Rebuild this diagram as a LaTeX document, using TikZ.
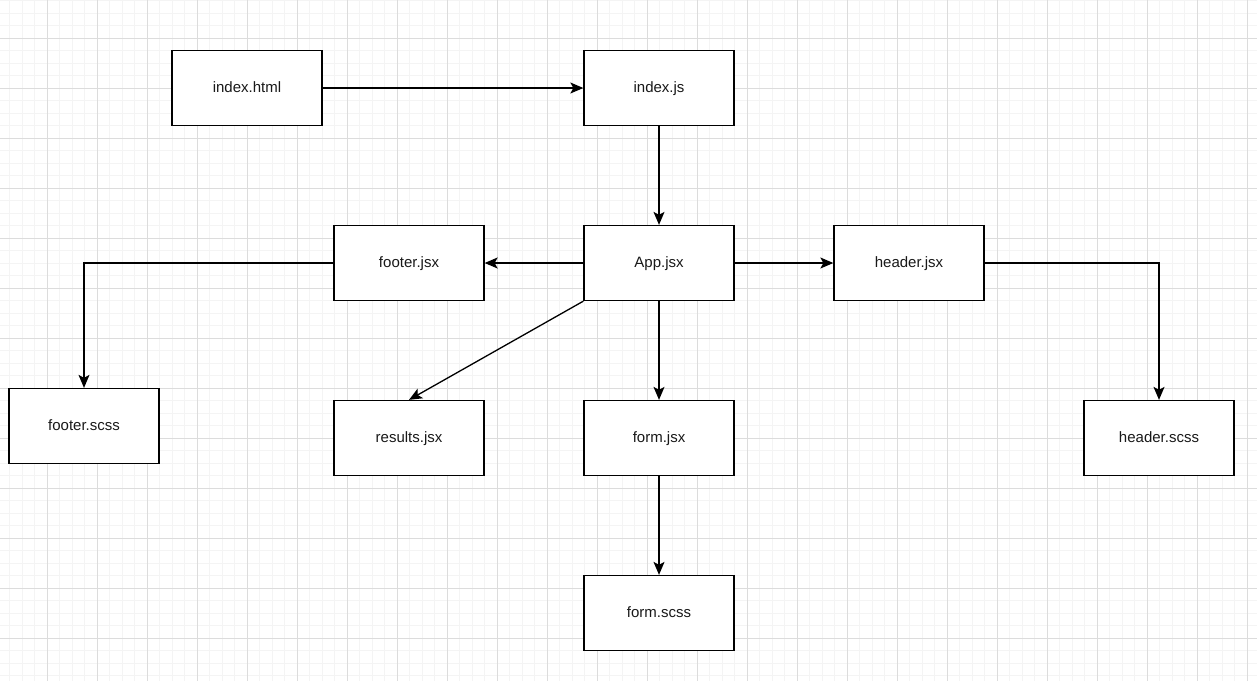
\documentclass[tikz,border=0pt]{standalone}
\usepackage{fontspec}
\setmainfont{Liberation Sans}
\usetikzlibrary{arrows.meta}
\tikzset{
  filebox/.style={draw=black, fill=white, line width=1.3pt, minimum width=150pt, minimum height=75pt, inner sep=0pt, font=\fontsize{15pt}{18pt}\selectfont, text=black!90, text depth=0pt, text height=8pt},
  conn/.style={draw=black, line width=1.3pt, -{Stealth[length=13pt,width=11pt,inset=3pt]}},
  minorline/.style={draw={rgb,255:red,244;green,244;blue,244}, line width=1pt},
  majorline/.style={draw={rgb,255:red,220;green,220;blue,220}, line width=1pt}
}
\begin{document}
\begin{tikzpicture}[x=1pt,y=-1pt]
\useasboundingbox (0,0) rectangle (1257,681);
\fill[white] (0,0) rectangle (1257,681);
% minor grid
\foreach \i in {0,...,101} {\draw[minorline] ({-3+12.5*\i},0) -- ({-3+12.5*\i},681);}
\foreach \j in {0,...,55} {\draw[minorline] (0,{0.5+12.5*\j}) -- (1257,{0.5+12.5*\j});}
% major grid
\foreach \i in {0,...,25} {\draw[majorline] ({-3+50*\i},0) -- ({-3+50*\i},681);}
\foreach \j in {0,...,13} {\draw[majorline] (0,{38+50*\j}) -- (1257,{38+50*\j});}
% nodes
\node[filebox] (indexhtml) at (247,88) {index.html};
\node[filebox] (indexjs) at (659,88) {index.js};
\node[filebox] (app) at (659,263) {App.jsx};
\node[filebox] (footer) at (409,263) {footer.jsx};
\node[filebox] (header) at (909,263) {header.jsx};
\node[filebox] (footerscss) at (84,426) {footer.scss};
\node[filebox] (results) at (409,438) {results.jsx};
\node[filebox] (form) at (659,438) {form.jsx};
\node[filebox] (headerscss) at (1159,438) {header.scss};
\node[filebox] (formscss) at (659,613) {form.scss};
% connectors
\draw[conn] (indexhtml) -- (indexjs);
\draw[conn] (indexjs) -- (app);
\draw[conn] (app) -- (footer);
\draw[conn] (app) -- (header);
\draw[conn] (footer.west) -| (footerscss.north);
\draw[conn] (header.east) -| (headerscss.north);
\draw[conn] (app.south west) -- (results.north);
\draw[conn] (app) -- (form);
\draw[conn] (form) -- (formscss);
\end{tikzpicture}
\end{document}
